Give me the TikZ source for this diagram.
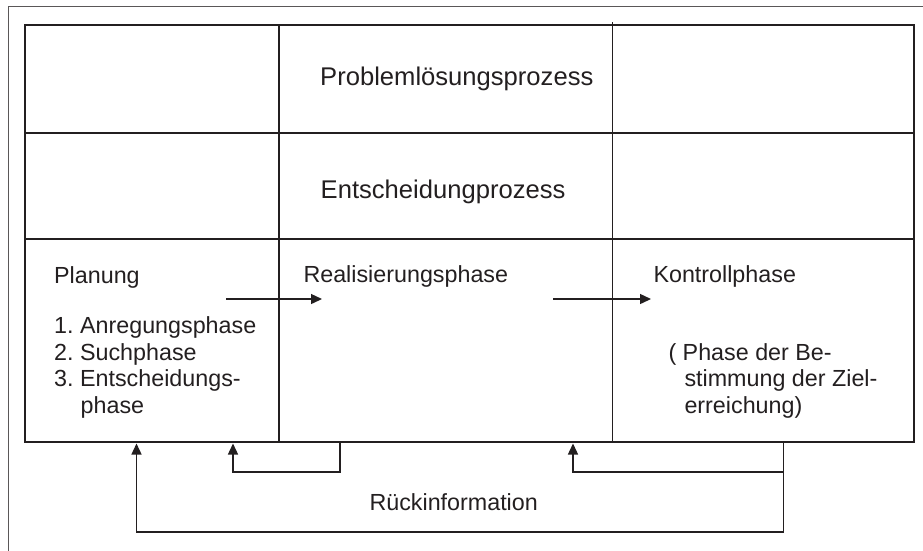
\documentclass[tikz,border=0pt]{standalone}
\usepackage{fontspec}
\setmainfont{Liberation Sans}
\usetikzlibrary{arrows.meta}
\definecolor{ink}{HTML}{231F20}
\frenchspacing
\begin{document}
\begin{tikzpicture}[x=1pt,y=-1pt,
  frame/.style={line width=1pt, draw=ink!75},
  border/.style={line width=2.7pt, draw=ink},
  gridline/.style={line width=1.3pt, draw=ink},
  conn/.style={line width=1.4pt, draw=ink},
  arr/.style={conn, -{Triangle[length=11pt,width=10pt]}},
  body/.style={anchor=base west, inner sep=0pt, text=ink, font=\fontsize{23.3}{26.7}\selectfont},
  head/.style={anchor=base west, inner sep=0pt, text=ink, font=\fontsize{25.6}{30}\selectfont}]
\useasboundingbox (0,0) rectangle (923,550);
% outer frame (clipped at right and bottom)
\draw[frame] (8.5,560) -- (8.5,6.5) -- (935,6.5);
% table
\draw[gridline] (279,25) -- (279,442);
\draw[gridline] (612.5,22) -- (612.5,442);
\draw[gridline] (25,133) -- (914,133);
\draw[gridline] (25,239) -- (914,239);
\draw[border] (25,25) rectangle (914,442);
% headings
\node[head] (h1) at (320,85) {Problemlösungsprozess};
\node[head] (h2) at (320.5,198) {Entscheidungprozess};
% phases
\node[body] (plan) at (54,283.3) {Planung};
\node[body] (l1) at (54,333.3) {1. Anregungsphase};
\node[body] (l2) at (54,360) {2. Suchphase};
\node[body] (l3) at (54,386.7) {3. Entscheidungs-};
\node[body] (l4) at (80.5,413.3) {phase};
\node[body] (real) at (303.3,282.3) {Realisierungsphase};
\node[body] (kon) at (653.3,282.3) {Kontrollphase};
\node[body] (k1) at (668.3,360) {( Phase der Be-};
\node[body] (k2) at (684.3,386.7) {stimmung der Ziel-};
\node[body] (k3) at (684.3,413.3) {erreichung)};
\node[body] (rueck) at (369.3,510) {Rückinformation};
% connector coordinates
\coordinate (a1s) at (226,299);
\coordinate (a1e) at (322,299);
\coordinate (a2s) at (553,299);
\coordinate (a2e) at (651,299);
\coordinate (r1s) at (340,443);
\coordinate (r1a) at (340,472);
\coordinate (r1b) at (233,472);
\coordinate (r1e) at (233,443.5);
\coordinate (r2s) at (783.5,443);
\coordinate (r2a) at (783.5,472);
\coordinate (r2b) at (573,472);
\coordinate (r2e) at (573,443.5);
\coordinate (r3a) at (783.5,532);
\coordinate (r3b) at (136.5,532);
\coordinate (r3e) at (136.5,443.5);
% arrows
\draw[arr] (a1s) -- (a1e);
\draw[arr] (a2s) -- (a2e);
\draw[arr] (r1s) -- (r1a) -- (r1b) -- (r1e);
\draw[arr] (r2s) -- (r2a) -- (r2b) -- (r2e);
\draw[arr] (r2a) -- (r3a) -- (r3b) -- (r3e);
\end{tikzpicture}
\end{document}
